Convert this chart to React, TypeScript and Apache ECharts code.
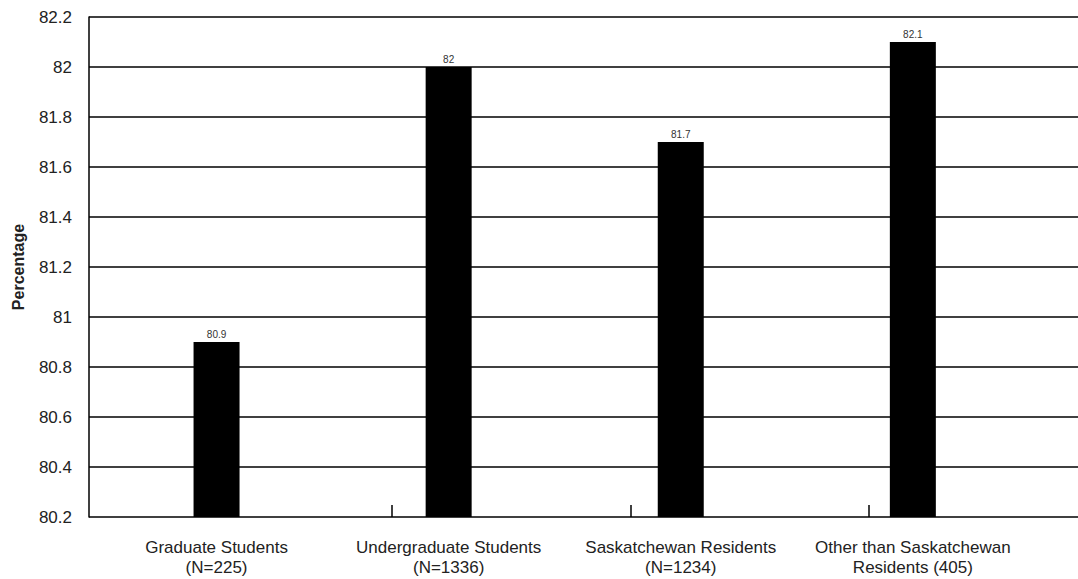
import React, { useEffect, useRef } from "react";
import * as echarts from "echarts";

// Survey groups and their percentages
const categories = [
  "Graduate Students\n(N=225)",
  "Undergraduate Students\n(N=1336)",
  "Saskatchewan Residents\n(N=1234)",
  "Other than Saskatchewan\nResidents (405)",
];
const values = [80.9, 82, 81.7, 82.1];

// Value axis range
const yMin = 80.2;
const yMax = 82.2;
const yStep = 0.2;

const FONT = "'Liberation Sans', Arial, Helvetica, sans-serif";
const TEXT = "#222";

export default function App() {
  const ref = useRef<HTMLDivElement>(null);

  useEffect(() => {
    if (!ref.current) return;
    const chart = echarts.init(ref.current, undefined, { renderer: "svg" });
    const top = 17;
    const bottom = 62;
    const hiddenY = (gridIndex: number) => ({
      type: "value",
      gridIndex,
      min: yMin,
      max: yMax,
      interval: yStep,
      show: false,
    });
    chart.setOption({
      animation: false,
      backgroundColor: "#fff",
      textStyle: { fontFamily: FONT },
      grid: [
        // frame with horizontal rules and the value axis
        { left: 89, right: -20, top, bottom },
        // bars and category labels
        { left: 100.5, width: 928.4, top, bottom },
        // separator ticks along the base line
        { left: 392, width: 477, top, bottom },
      ],
      xAxis: [
        { type: "value", gridIndex: 0, show: false, min: 0, max: 1 },
        {
          type: "category",
          gridIndex: 1,
          data: categories,
          axisLine: { show: false },
          axisTick: { show: false },
          axisLabel: {
            fontSize: 17,
            lineHeight: 20,
            margin: 20,
            color: TEXT,
            fontFamily: FONT,
            interval: 0,
          },
        },
        {
          type: "value",
          gridIndex: 2,
          min: 0,
          max: 2,
          interval: 1,
          axisLine: { show: false },
          axisLabel: { show: false },
          splitLine: { show: false },
          axisTick: {
            show: true,
            inside: true,
            length: 12,
            lineStyle: { color: "#000", width: 1.5 },
          },
        },
      ],
      yAxis: [
        {
          type: "value",
          gridIndex: 0,
          min: yMin,
          max: yMax,
          interval: yStep,
          name: "Percentage",
          nameLocation: "middle",
          nameGap: 63,
          nameTextStyle: {
            fontSize: 16,
            fontWeight: "bold",
            color: TEXT,
            fontFamily: FONT,
          },
          axisLine: { show: true, lineStyle: { color: "#000", width: 1.5 } },
          axisTick: { show: false },
          splitLine: { show: true, lineStyle: { color: "#000", width: 1.5 } },
          axisLabel: {
            fontSize: 17,
            margin: 17,
            color: TEXT,
            fontFamily: FONT,
            formatter: (v: number) => String(+v.toFixed(1)),
          },
        },
        hiddenY(1),
        hiddenY(2),
      ],
      series: [
        {
          type: "bar",
          xAxisIndex: 1,
          yAxisIndex: 1,
          data: values,
          barWidth: 46,
          itemStyle: { color: "#000" },
          label: {
            show: true,
            position: "top",
            distance: 3,
            fontSize: 10,
            color: "#333",
            fontFamily: FONT,
          },
        },
      ],
    });
    return () => chart.dispose();
  }, []);

  return (
    <div
      ref={ref}
      style={{
        position: "fixed",
        left: 0,
        top: 0,
        width: 1078,
        height: 579,
        background: "#fff",
      }}
    />
  );
}
